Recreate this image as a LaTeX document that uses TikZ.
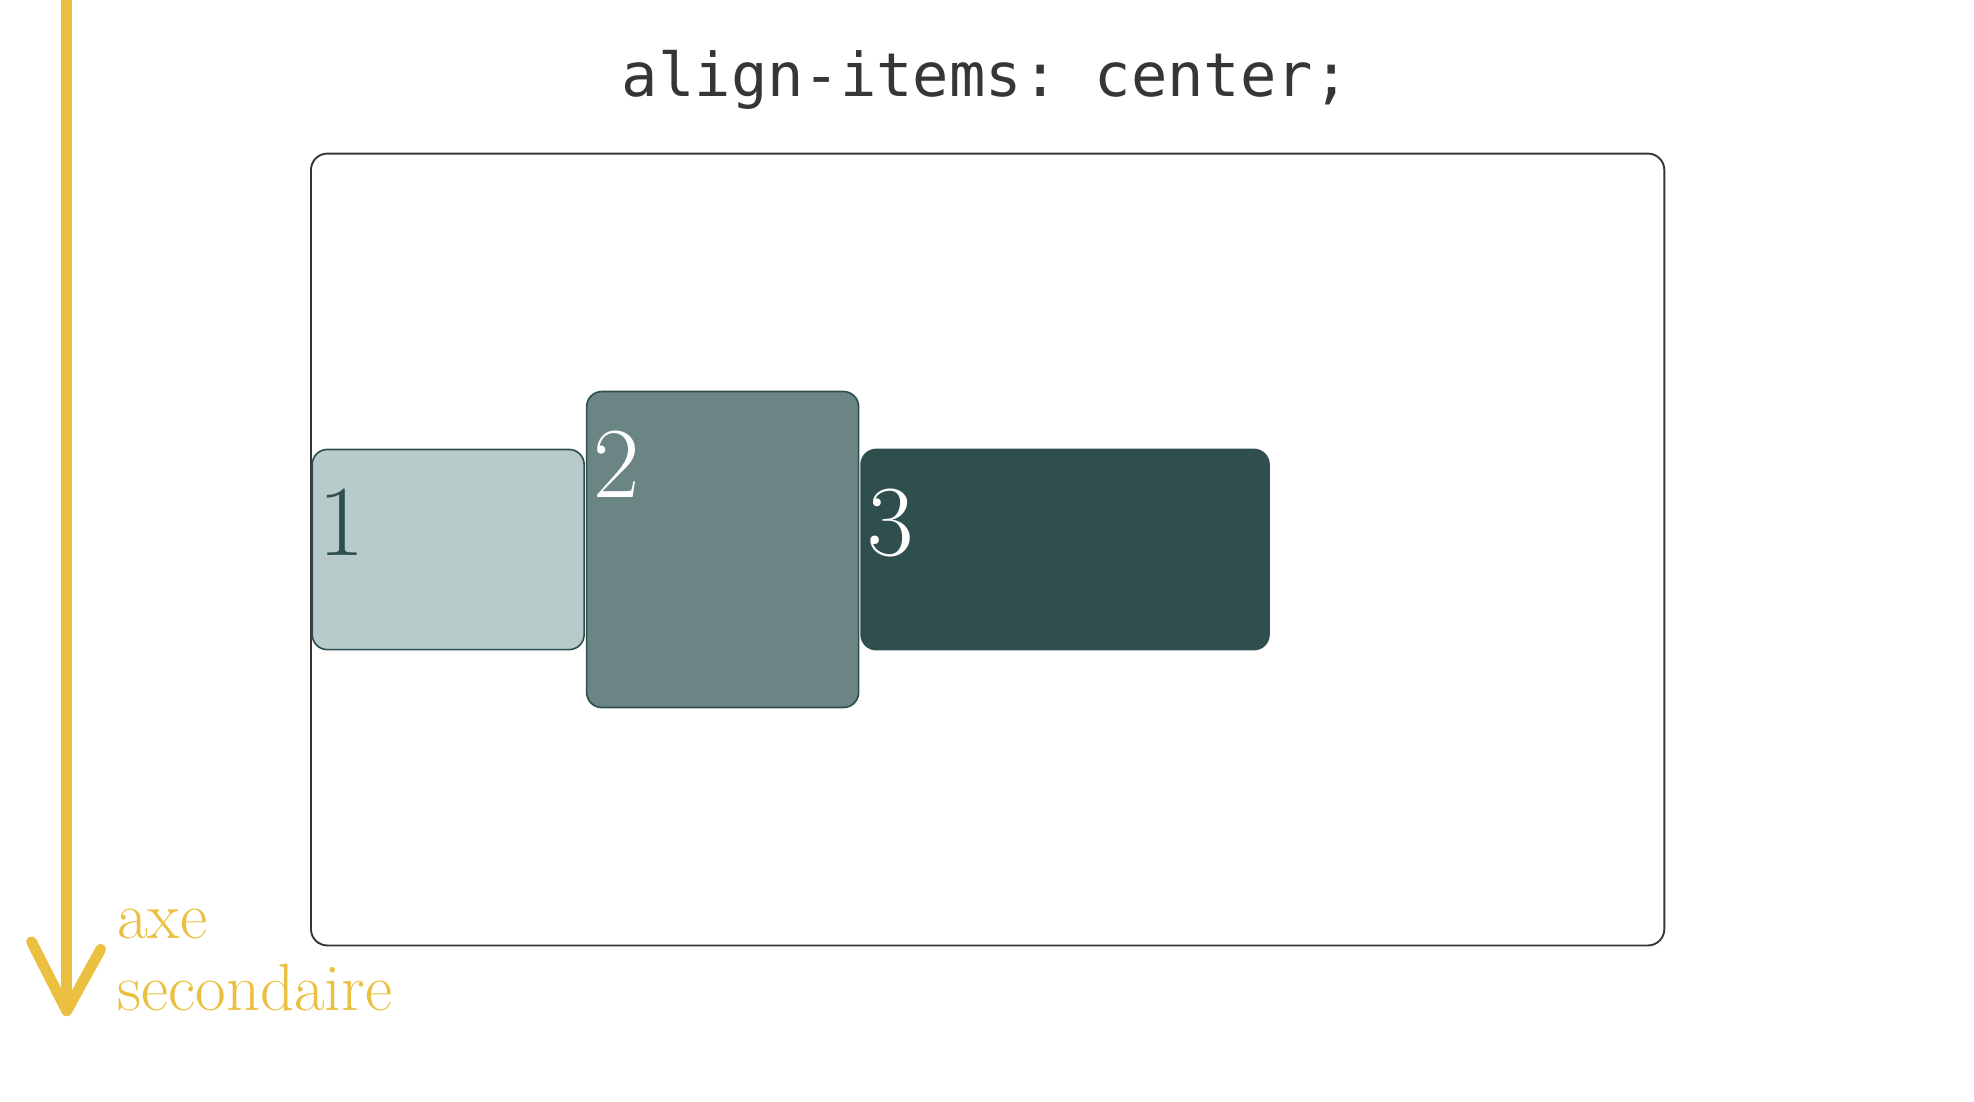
\documentclass[tikz,border=0pt]{standalone}
\usepackage{fontspec}
\setmonofont{DejaVu Sans Mono}
\usepackage{tikz}
\usetikzlibrary{positioning}
\definecolor{axis}{HTML}{EBBF3F}
\definecolor{slate}{HTML}{2F4F4F}
\definecolor{slatemid}{HTML}{6B8584}
\definecolor{slatelight}{HTML}{B9CACA}
\definecolor{ink}{HTML}{363636}
\tikzset{	x=1pt, y=-1pt,
	flexbox/.style={
		draw=ink,
		line width=1.5pt,
		rounded corners=13pt,
		minimum width=1075pt,
		minimum height=629pt,
		inner sep=0pt, outer sep=0pt},
	flexitem/.style={
		draw=slate,
		line width=1.3pt,
		rounded corners=12pt,
		minimum width=216pt,
		inner sep=0pt, outer sep=0pt},
	num/.style={
		anchor=base west,
		inner sep=0pt,
		font=\fontsize{80}{80}\selectfont},
	axe/.style={
		draw=axis,
		line width=8.5pt}
}

\begin{document}
\begin{tikzpicture}
	\useasboundingbox (0,0) rectangle (1568,874.6);
	\node[font=\ttfamily\fontsize{48}{48}\selectfont, text=ink, anchor=base] (T) at (783,77) {align-items: center;};
	\node[flexbox] (F) at (784.5,436.5) {};
	\node[flexitem, fill=slatelight, minimum height=159pt, right=1pt of F.west] (I1) {};
	\node[flexitem, fill=slatemid, minimum height=251pt, right=2pt of I1] (I2) {};
	\node[flexitem, fill=slate, minimum width=324pt, minimum height=159pt, right=2pt of I2] (I3) {};
	\node[num, text=slate] at ([shift={(5,84)}]I1.north west) {1};
	\node[num, text=white] at ([shift={(5,84)}]I2.north west) {2};
	\node[num, text=white] at ([shift={(5,84)}]I3.north west) {3};
	% axe secondaire
	\coordinate (top) at (53,0);
	\coordinate (tip) at (53,803);
	\draw[axe] (top) -- (tip);
	\draw[axe, line cap=round, line join=round] ([shift={(-28,-55)}]tip) -- (tip) -- ([shift={(27,-49)}]tip);
	\node[align=left, anchor=south west, inner sep=0pt, text=axis, font=\fontsize{53}{57}\selectfont] (L) at (93,803) {axe\\secondaire};
\end{tikzpicture}
\end{document}
